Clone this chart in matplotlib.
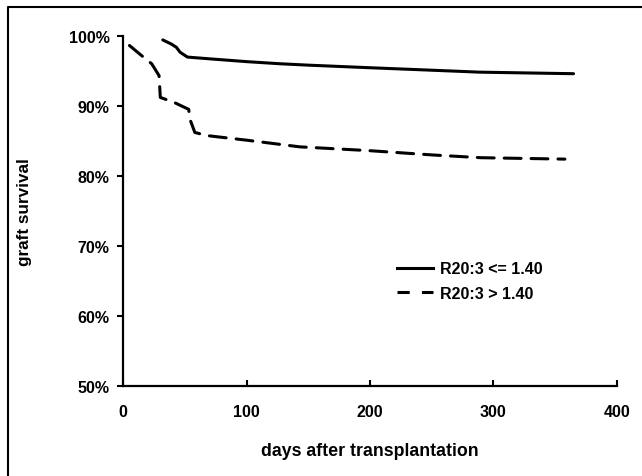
import matplotlib
matplotlib.use('Agg')
from matplotlib import pyplot as plt
from matplotlib.lines import Line2D

plt.rcParams['font.family'] = ['Liberation Sans', 'DejaVu Sans']
plt.rcParams['font.weight'] = 'bold'

# graft survival curves (days, percent)
low_days = [32, 39, 43, 46, 52, 70, 100, 127, 150, 200, 250, 289, 365]
low_surv = [99.4, 98.8, 98.35, 97.65, 96.95, 96.7, 96.3, 96.0, 95.8, 95.43, 95.08, 94.8, 94.58]

high_days = [5, 18, 23, 29, 30, 41, 53, 54, 58, 68, 100, 143, 200, 250, 290, 358]
high_surv = [98.6, 96.7, 96.0, 94.3, 91.2, 90.5, 89.5, 88.1, 86.2, 85.75, 85.1, 84.15, 83.6, 83.0, 82.6, 82.4]

labels = ['R20:3 <= 1.40', 'R20:3 > 1.40']
x_ticks = [0, 100, 200, 300, 400]
y_ticks = [50, 60, 70, 80, 90, 100]

fig = plt.figure(figsize=(6.42, 4.77), dpi=100)
ax = fig.add_axes([123.3 / 642, 1 - 387.3 / 477, 493.4 / 642, 350.6 / 477])

ax.plot(low_days, low_surv, color='black', lw=2.2, solid_capstyle='round')
ax.plot(high_days, high_surv, color='black', lw=2.2, dashes=(5.5, 3.3), dash_capstyle='round')

ax.set_xlim(0, 400)
ax.set_ylim(50, 100)
ax.set_xticks(x_ticks)
ax.set_yticks(y_ticks)
ax.set_yticklabels([f'{v}%' for v in y_ticks])
ax.tick_params(axis='x', direction='in', length=4, width=1.5, pad=13, labelsize=11.5)
ax.tick_params(axis='y', direction='out', length=4, width=1.5, pad=6, labelsize=11.5)
for lab in ax.get_xticklabels() + ax.get_yticklabels():
    lab.set_fontweight('bold')

for side in ['top', 'right']:
    ax.spines[side].set_visible(False)
for side in ['left', 'bottom']:
    ax.spines[side].set_linewidth(1.6)

ax.set_xlabel('days after transplantation', fontsize=12.8, fontweight='bold', labelpad=16)
ax.set_ylabel('graft survival', fontsize=12.3, fontweight='bold', labelpad=26)

handles = [Line2D([], [], color='black', lw=2.2),
           Line2D([], [], color='black', lw=2.2, dashes=(4, 4))]
ax.legend(handles, labels, loc='center left', bbox_to_anchor=(0.554, 0.300),
          frameon=False, borderpad=0, borderaxespad=0, handlelength=2.3,
          handletextpad=0.4, labelspacing=0.62, prop={'size': 11.5, 'weight': 'bold'})

# partial frame round the figure (top and left edges)
fig.add_artist(Line2D([8 / 642, 8 / 642, 1], [0, 1 - 8 / 477, 1 - 8 / 477],
                      transform=fig.transFigure, color='black', lw=1.5))

fig.savefig('out.png', dpi=100)
